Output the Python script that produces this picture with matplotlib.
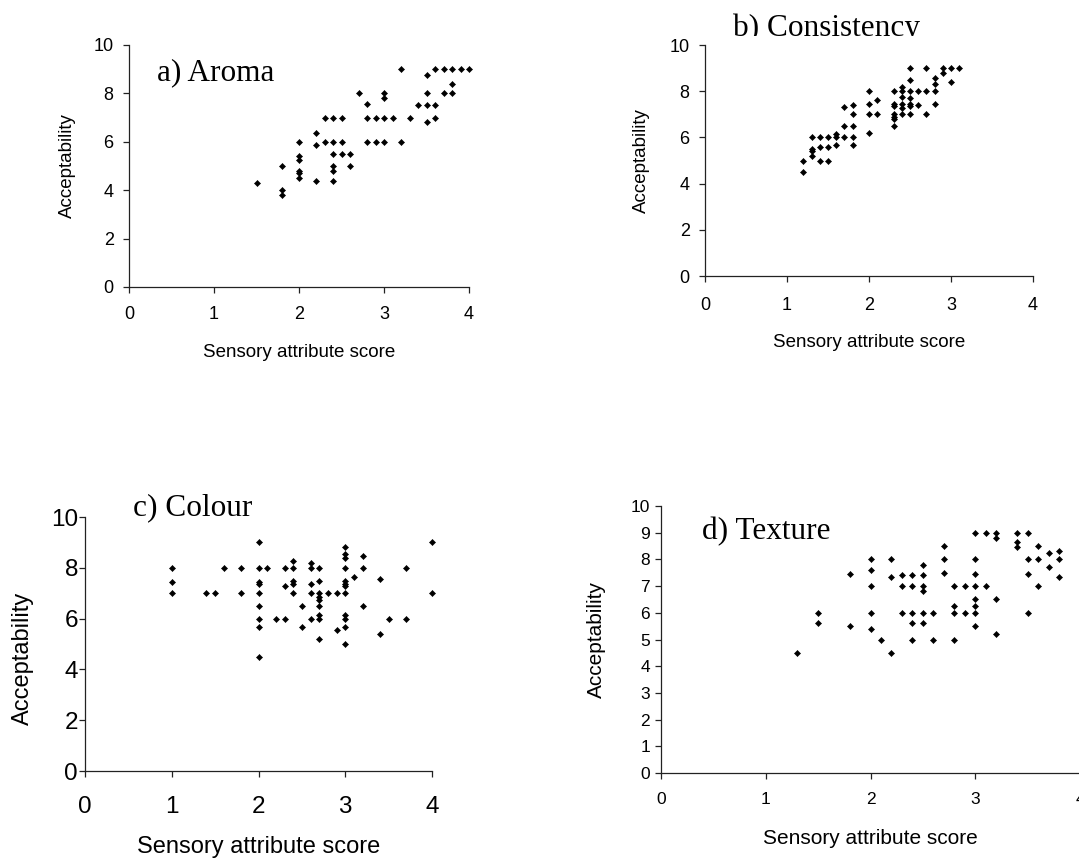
import matplotlib
matplotlib.use("Agg")
import matplotlib.pyplot as plt
from matplotlib.transforms import Bbox, TransformedBbox

# ---------------- data ----------------
aroma_scores = [1.5, 1.8, 2.0, 2.2, 2.3, 2.4, 2.5, 2.6, 2.7, 2.8, 2.9, 3.0,
                3.1, 3.2, 3.3, 3.4, 3.5, 3.6, 3.7, 3.8, 3.9, 4.0]
aroma_accept = [[4.3], [5.0, 4.0, 3.8], [6.0, 5.4, 5.25, 4.8, 4.7, 4.5],
                [6.35, 5.85, 4.4], [7.0, 6.0], [7.0, 6.0, 5.5, 5.0, 4.8, 4.4],
                [7.0, 6.0, 5.5], [5.5, 5.0], [8.0], [7.55, 7.0, 6.0], [7.0, 6.0],
                [8.0, 7.8, 7.0, 6.0], [7.0], [9.0, 6.0], [7.0], [7.5],
                [8.75, 8.0, 7.5, 6.8], [9.0, 7.5, 7.0], [9.0, 8.0],
                [9.0, 8.4, 8.0], [9.0], [9.0]]

consistency_scores = [1.2, 1.3, 1.4, 1.5, 1.6, 1.7, 1.8, 2.0, 2.1, 2.3, 2.4,
                      2.5, 2.6, 2.7, 2.8, 2.9, 3.0, 3.1]
consistency_accept = [[5.0, 4.5], [6.0, 5.5, 5.4, 5.2], [6.0, 5.6, 5.0],
                      [6.0, 5.6, 5.0], [6.15, 6.0, 5.65], [7.3, 6.5, 6.0],
                      [7.4, 7.0, 6.5, 6.0, 5.65], [8.0, 7.45, 7.0, 6.2],
                      [7.6, 7.0], [8.0, 7.45, 7.35, 7.0, 6.88, 6.78, 6.5],
                      [8.17, 8.0, 7.76, 7.44, 7.27, 7.0],
                      [9.0, 8.5, 8.0, 7.7, 7.44, 7.37, 7.0], [8.0, 7.4],
                      [9.0, 8.0, 7.0], [8.56, 8.33, 8.0, 7.45], [9.0, 8.8],
                      [9.0, 8.4], [9.0]]

colour_scores = [1.0, 1.4, 1.5, 1.6, 1.8, 2.0, 2.1, 2.2, 2.3, 2.4, 2.5, 2.6,
                 2.7, 2.8, 2.9, 3.0, 3.1, 3.2, 3.4, 3.5, 3.7, 4.0]
colour_accept = [[8.0, 7.45, 7.0], [7.0], [7.0], [8.0], [8.0, 7.0],
                 [9.0, 8.0, 7.45, 7.38, 7.0, 6.5, 6.0, 5.65, 4.5], [8.0], [6.0],
                 [8.0, 7.3, 6.0], [8.25, 8.0, 7.47, 7.38, 7.0], [6.5, 5.65],
                 [8.2, 8.0, 7.38, 7.0, 6.0],
                 [8.0, 7.47, 7.0, 6.85, 6.72, 6.5, 6.15, 6.0, 5.2], [7.0],
                 [7.0, 5.55],
                 [8.8, 8.55, 8.4, 8.0, 7.47, 7.38, 7.3, 7.0, 6.15, 6.0, 5.65, 5.0],
                 [7.65], [8.45, 8.0, 6.5], [7.55, 5.4], [6.0], [8.0, 6.0],
                 [9.0, 7.0]]

texture_scores = [1.3, 1.5, 1.8, 2.0, 2.1, 2.2, 2.3, 2.4, 2.5, 2.6, 2.7, 2.8,
                  2.9, 3.0, 3.1, 3.2, 3.4, 3.5, 3.6, 3.7, 3.8]
texture_accept = [[4.5], [6.0, 5.6], [7.45, 5.5], [8.0, 7.6, 7.0, 6.0, 5.4],
                  [5.0], [8.0, 7.35, 4.5], [7.4, 7.0, 6.0],
                  [7.4, 7.0, 6.0, 5.6, 5.0], [7.8, 7.4, 7.0, 6.8, 6.0, 5.6],
                  [6.0, 5.0], [8.5, 8.0, 7.5], [7.0, 6.25, 6.0, 5.0], [7.0, 6.0],
                  [9.0, 8.0, 7.47, 7.0, 6.5, 6.25, 6.0, 5.5], [9.0, 7.0],
                  [9.0, 8.8, 6.5, 5.2], [9.0, 8.65, 8.45], [9.0, 8.0, 7.47, 6.0],
                  [8.5, 8.0, 7.0], [8.25, 7.7], [8.3, 8.0, 7.35]]

titles = ["a) Aroma", "b) Consistency", "c) Colour", "d) Texture"]
xlabel_text = "Sensory attribute score"
ylabel_text = "Acceptability"
x_ticks = [0, 1, 2, 3, 4]
y_ticks_even = [0, 2, 4, 6, 8, 10]
y_ticks_unit = [0, 1, 2, 3, 4, 5, 6, 7, 8, 9, 10]


def expand(scores, accepts):
    xs, ys = [], []
    for s, group in zip(scores, accepts):
        for a in group:
            xs.append(s)
            ys.append(a)
    return xs, ys


# ---------------- figure ----------------
W, H = 1079, 868
fig = plt.figure(figsize=(W / 100, H / 100), dpi=100)
fig.patch.set_facecolor("white")

SANS = ["Liberation Sans", "DejaVu Sans"]
SERIF = ["Liberation Serif", "DejaVu Serif"]


def px_axes(left, right, top, bottom):
    return [left / W, 1 - bottom / H, (right - left) / W, (bottom - top) / H]


panels = [
    dict(rect=px_axes(129, 469, 45, 287), scores=aroma_scores, acc=aroma_accept,
         yticks=y_ticks_even, tick_fs=13, lab_fs=13.5,
         xpad=10, ypad=7, ylab=(-0.182, 0.5), xlab=(0.5, -0.27),
         title_px=(157, 80)),
    dict(rect=px_axes(705, 1033, 45, 276), scores=consistency_scores,
         acc=consistency_accept, yticks=y_ticks_even, tick_fs=13, lab_fs=13.5,
         xpad=11, ypad=7, ylab=(-0.195, 0.5), xlab=(0.5, -0.286),
         title_px=(733, 36)),
    dict(rect=px_axes(85, 432, 517, 771), scores=colour_scores, acc=colour_accept,
         yticks=y_ticks_even, tick_fs=17.5, lab_fs=17,
         xpad=14, ypad=1, ylab=(-0.18, 0.445), xlab=(0.5, -0.30),
         title_px=(133, 515)),
    dict(rect=px_axes(661, 1080, 506, 773), scores=texture_scores,
         acc=texture_accept, yticks=y_ticks_unit, tick_fs=12.5, lab_fs=15,
         xpad=10, ypad=4, ylab=(-0.155, 0.5), xlab=(0.5, -0.247),
         title_px=(702, 539)),
]

for i, p in enumerate(panels):
    ax = fig.add_axes(p["rect"])
    xs, ys = expand(p["scores"], p["acc"])
    ax.plot(xs, ys, linestyle="none", marker="D", markersize=3.1,
            markerfacecolor="black", markeredgecolor="black",
            markeredgewidth=0.4, clip_on=False, zorder=3)
    ax.set_xlim(0, 4)
    ax.set_ylim(0, 10)
    ax.set_xticks(x_ticks)
    ax.set_yticks(p["yticks"])
    for side in ("top", "right"):
        ax.spines[side].set_visible(False)
    for side in ("left", "bottom"):
        ax.spines[side].set_color("#222222")
        ax.spines[side].set_linewidth(0.9)
    ax.tick_params(axis="both", direction="out", length=4, width=0.9,
                   color="#222222", labelsize=p["tick_fs"])
    ax.tick_params(axis="x", pad=p["xpad"])
    ax.tick_params(axis="y", pad=p["ypad"])
    for lab in ax.get_xticklabels() + ax.get_yticklabels():
        lab.set_family(SANS)
    ax.set_xlabel(xlabel_text, fontsize=p["lab_fs"], family=SANS,
                  va="center", ha="center")
    ax.set_ylabel(ylabel_text, fontsize=p["lab_fs"], family=SANS,
                  va="center", ha="center")
    ax.xaxis.set_label_coords(*p["xlab"])
    ax.yaxis.set_label_coords(*p["ylab"])

    tx, ty = p["title_px"]
    t = fig.text(tx / W, 1 - ty / H, titles[i], fontsize=22.5, family=SERIF,
                 ha="left", va="baseline", color="black")
    if i == 1:
        clip = TransformedBbox(Bbox([[0, 1 - 36 / H], [1, 1]]), fig.transFigure)
        t.set_clip_box(clip)
        t.set_clip_on(True)

fig.savefig("out.png", dpi=100, facecolor="white")
